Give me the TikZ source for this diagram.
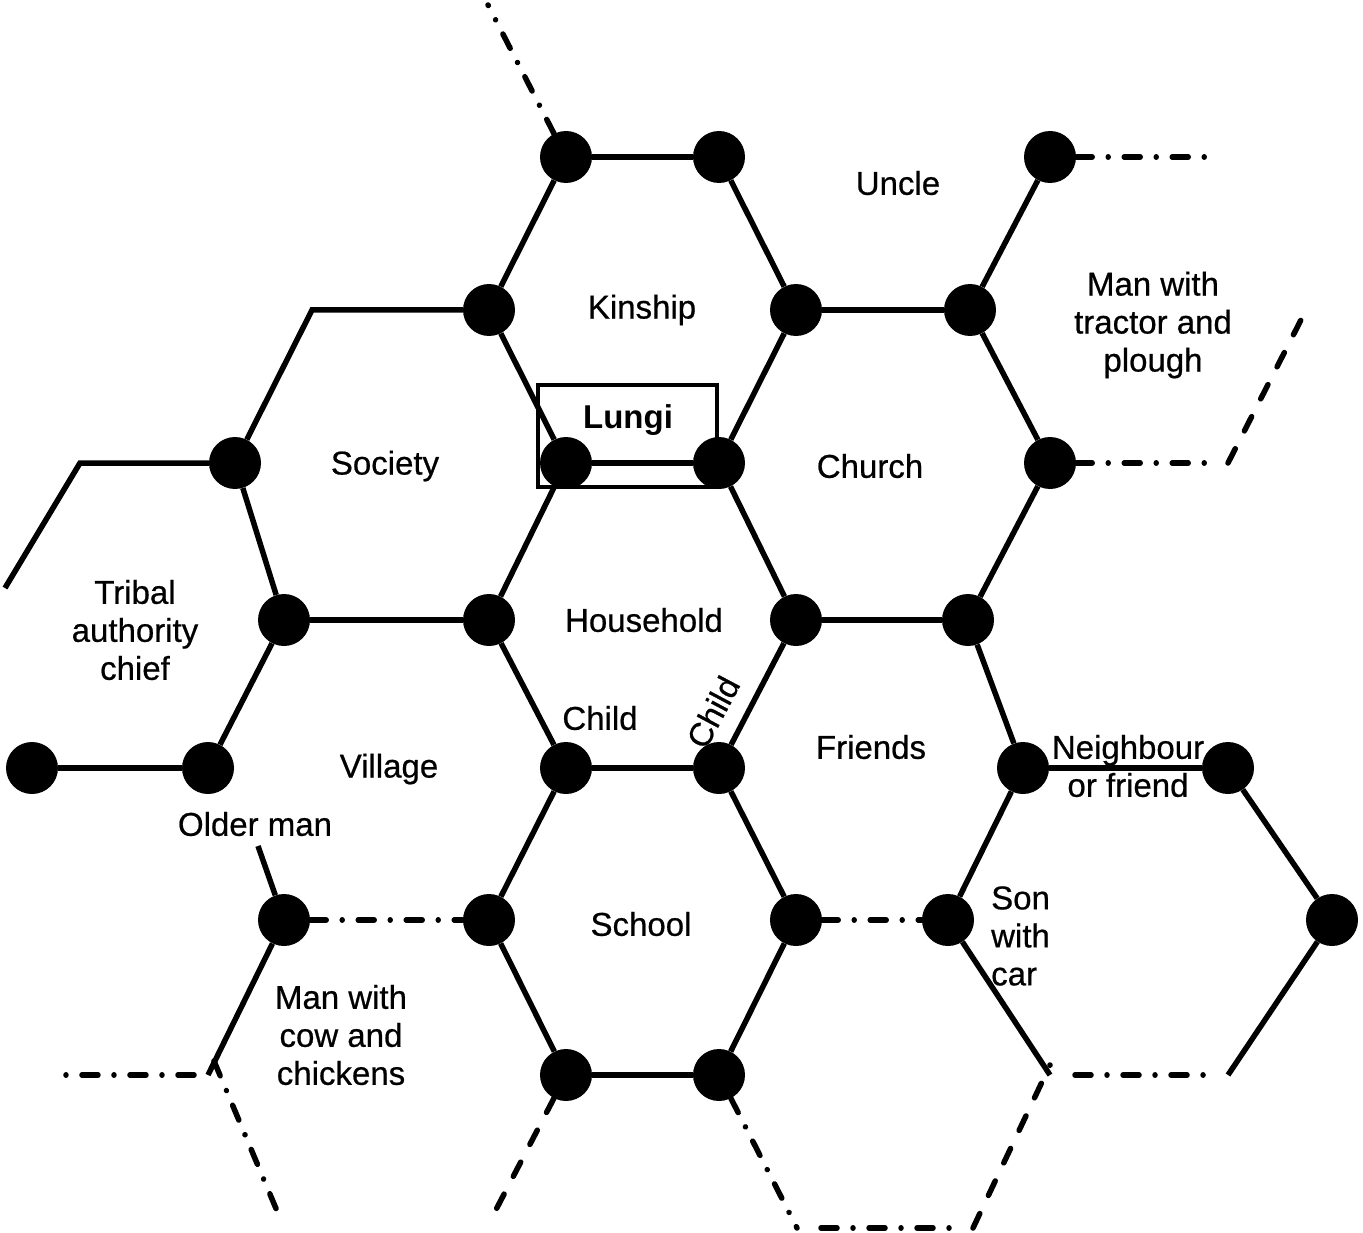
\documentclass[tikz,border=0pt]{standalone}
\usepackage{fontspec}
\setmainfont{Liberation Sans}
\newfontfamily\heavyfont{Liberation Sans}[FakeBold=0.6]
\begin{document}
\begin{tikzpicture}[x=1pt,y=-1pt,
 dot/.style={circle,fill=black,minimum size=52pt,inner sep=0pt},
 edge/.style={line width=5.5pt},
 dd/.style={line width=5.5pt,line cap=round,dash pattern=on 16pt off 16pt on 0.01pt off 16pt},
 dsh/.style={line width=5.5pt,line cap=round,dash pattern=on 16pt off 20pt},
 lbl/.style={font=\heavyfont\fontsize{33}{38}\selectfont,align=center,inner sep=0pt},
 lblb/.style={lbl,font=\fontsize{33}{38}\selectfont\bfseries}]
\useasboundingbox (0,0) rectangle (1363,1233);
% dots
\node[dot] (A1) at (566,157) {};
\node[dot] (A2) at (719,157) {};
\node[dot] (A3) at (1050,157) {};
\node[dot] (B1) at (489,310) {};
\node[dot] (B2) at (796,310) {};
\node[dot] (B3) at (970,310) {};
\node[dot] (C1) at (235,463) {};
\node[dot] (C2) at (566,463) {};
\node[dot] (C3) at (719,463) {};
\node[dot] (C4) at (1050,463) {};
\node[dot] (D1) at (284,620) {};
\node[dot] (D2) at (489,620) {};
\node[dot] (D3) at (796,620) {};
\node[dot] (D4) at (968,620) {};
\node[dot] (E1) at (32,768) {};
\node[dot] (E2) at (208,768) {};
\node[dot] (E3) at (566,768) {};
\node[dot] (E4) at (719,768) {};
\node[dot] (E5) at (1023,768) {};
\node[dot] (E6) at (1228,768) {};
\node[dot] (F1) at (284,920) {};
\node[dot] (F2) at (489,920) {};
\node[dot] (F3) at (796,920) {};
\node[dot] (F4) at (948,920) {};
\node[dot] (F5) at (1332,920) {};
\node[dot] (G1) at (566,1075) {};
\node[dot] (G2) at (719,1075) {};
% free ends
\coordinate (k1) at (312,310);
\coordinate (k2) at (80,463);
\coordinate (k3) at (5,588);
\coordinate (k4) at (208,1075);
\coordinate (k5) at (52,1075);
\coordinate (k6) at (280,1218);
\coordinate (k7) at (488,1225);
\coordinate (k8) at (797,1228);
\coordinate (k9) at (965,1228);
\coordinate (k10) at (1050,1075);
\coordinate (k11) at (1075,1075);
\coordinate (k12) at (1213,1075);
\coordinate (k13) at (1228,1075);
\coordinate (k14) at (1213,157);
\coordinate (k15) at (1213,463);
\coordinate (k16) at (1228,463);
\coordinate (k17) at (1305,312);
\coordinate (k18) at (488,5);
\coordinate (k19) at (258,846);
% solid edges
\draw[edge] (A1) -- (A2);
\draw[edge] (A1) -- (B1);
\draw[edge] (A2) -- (B2);
\draw[edge] (B1) -- (C2);
\draw[edge] (B2) -- (C3);
\draw[edge] (B2) -- (B3);
\draw[edge] (B3) -- (A3);
\draw[edge] (B3) -- (C4);
\draw[edge] (C2) -- (C3);
\draw[edge] (C2) -- (D2);
\draw[edge] (C3) -- (D3);
\draw[edge] (D3) -- (D4);
\draw[edge] (C4) -- (D4);
\draw[edge] (D2) -- (D1);
\draw[edge] (D1) -- (C1);
\draw[edge] (C1) -- (k1) -- (B1);
\draw[edge] (C1) -- (k2) -- (k3);
\draw[edge] (D1) -- (E2);
\draw[edge] (E2) -- (E1);
\draw[edge] (D2) -- (E3);
\draw[edge] (D3) -- (E4);
\draw[edge] (E3) -- (E4);
\draw[edge] (D4) -- (E5);
\draw[edge] (E5) -- (E6);
\draw[edge] (E6) -- (F5);
\draw[edge] (F5) -- (k13);
\draw[edge] (E5) -- (F4);
\draw[edge] (F4) -- (k10);
\draw[edge] (E3) -- (F2);
\draw[edge] (E4) -- (F3);
\draw[edge] (F2) -- (G1);
\draw[edge] (F3) -- (G2);
\draw[edge] (G1) -- (G2);
\draw[edge] (k19) -- (F1);
\draw[edge] (F1) -- (k4);
% dash-dot and dashed
\draw[dd] (A1) -- (k18);
\draw[dd] (A3) -- (k14);
\draw[dd] (C4) -- (k15);
\draw[dsh] (k16) -- (k17);
\draw[dd] (F1) -- (F2);
\draw[dd] (F3) -- (F4);
\draw[dd] ([xshift=-14pt]k4) -- (k5);
\draw[dd] ([yshift=14pt,xshift=6pt]k4) -- (k6);
\draw[dsh] (G1) -- (k7);
\draw[dd] (G2) -- (k8);
\draw[dd] ([xshift=24pt]k8) -- (k9);
\draw[dsh] ([xshift=8pt]k9) -- ([yshift=10pt]k10);
\draw[dd] (k11) -- (k12);
% Lungi box
\draw[line width=4.5pt] (538,385) rectangle (717,487);
% labels
\node[lbl] (uncle) at (898,183) {Uncle};
\node[lbl] (kinship) at (642,310) {Kinship};
\node[lblb] (lungi) at (628,420) {Lungi};
\node[lbl] (society) at (385,466) {Society};
\node[lbl] (church) at (870,466) {Church};
\node[lbl] (tractor) at (1153,325) {Man with\\tractor and\\plough};
\node[lbl] (tribal) at (135,630) {Tribal\\authority\\chief};
\node[lbl] (household) at (644,620) {Household};
\node[lbl] (child1) at (600,718) {Child};
\node[lbl,rotate=62] (child2) at (713,712) {Child};
\node[lbl] (friends) at (871,747) {Friends};
\node[lbl] (village) at (389,769) {Village};
\node[lbl] (neighbour) at (1128,766) {Neighbour\\or friend};
\node[lbl] (older) at (255,824) {Older man};
\node[lbl] (school) at (641,924) {School};
\node[lbl,align=left,anchor=west] (son) at (991,936) {Son\\with\\car};
\node[lbl] (cow) at (341,1035) {Man with\\cow and\\chickens};
\end{tikzpicture}
\end{document}
